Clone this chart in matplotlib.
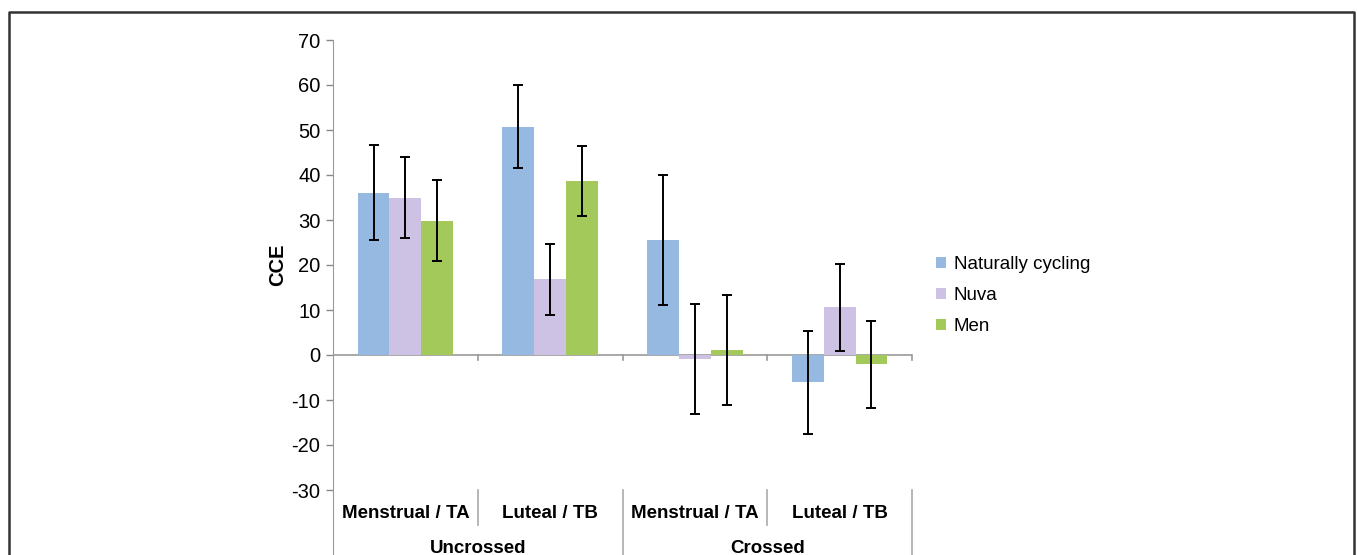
import matplotlib
matplotlib.use("Agg")
import matplotlib.pyplot as plt
from matplotlib.lines import Line2D
import numpy as np

plt.rcParams['font.family'] = ['Liberation Sans', 'DejaVu Sans']
plt.rcParams['axes.unicode_minus'] = False

categories = ["Menstrual / TA", "Luteal / TB", "Menstrual / TA", "Luteal / TB"]
groups = ["Uncrossed", "Crossed"]
series = ["Naturally cycling", "Nuva", "Men"]
natural = [36.1, 50.7, 25.5, -6.1]
natural_err = [10.6, 9.2, 14.4, 11.4]
nuva = [35.0, 16.8, -0.8, 10.6]
nuva_err = [9.1, 7.8, 12.2, 9.7]
men = [29.8, 38.7, 1.1, -2.1]
men_err = [9.0, 7.8, 12.2, 9.7]
colors = ["#95b9e1", "#cdc2e4", "#a3c95a"]

W, H = 1357, 555
fig = plt.figure(figsize=(W / 100, H / 100), dpi=100)
ax = fig.add_axes([333 / W, (H - 490) / H, 579 / W, 450 / H])

x = np.arange(len(categories))
width = 0.22
handles = []
for i, (vals, errs) in enumerate([(natural, natural_err), (nuva, nuva_err), (men, men_err)]):
    b = ax.bar(x + (i - 1) * width, vals, width, color=colors[i], label=series[i], zorder=2)
    ax.errorbar(x + (i - 1) * width, vals, yerr=errs, fmt='none', ecolor='black',
                elinewidth=1.4, capsize=3.8, capthick=1.4, zorder=3)
    handles.append(b)

ax.set_xlim(-0.5, 3.5)
ax.set_ylim(-30, 70)
ax.set_yticks(range(-30, 71, 10))
ax.tick_params(axis='y', labelsize=14.5, colors='#888888', labelcolor='black',
               length=5, width=1, pad=4)
ax.set_xticks([])
for s in ['top', 'right', 'bottom']:
    ax.spines[s].set_visible(False)
ax.spines['left'].set_color('#999999')
ax.spines['left'].set_bounds(-44.5, 70)
ax.spines['left'].set_clip_on(False)
ax.set_ylabel("CCE", fontsize=14.5, fontweight='bold', labelpad=3)

# zero line with category ticks
ax.axhline(0, color='#999999', lw=1.2, zorder=1)
for b in np.arange(0.5, 4.0, 1.0):
    ax.plot([b, b], [0, -1.2], color='#999999', lw=1.2, clip_on=False)

# category and group labels
for xi, lab in zip(x, categories):
    ax.text(xi, -35.2, lab, ha='center', va='center', fontsize=13.5, fontweight='bold')
for gi, g in enumerate(groups):
    ax.text(0.5 + 2 * gi, -42.9, g, ha='center', va='center', fontsize=13.5, fontweight='bold')
for b in [0.5, 2.5]:
    ax.plot([b, b], [-30, -37.8], color='#aaaaaa', lw=1.2, clip_on=False)
for b in [1.5, 3.5]:
    ax.plot([b, b], [-30, -44.5], color='#aaaaaa', lw=1.2, clip_on=False)

leg = fig.legend(handles=handles, loc='upper left', bbox_to_anchor=(919 / W, 1 - 239 / H),
                 frameon=False, fontsize=13.5, handlelength=0.55, handleheight=0.55,
                 handletextpad=0.4, labelspacing=0.75)

# outer frame
fx0, fx1, fy = 9 / W, 1354 / W, 1 - 12 / H
fig.add_artist(Line2D([fx0, fx0, fx1, fx1], [0, fy, fy, 0], color='#333333', lw=1.8,
                      transform=fig.transFigure))

fig.savefig("out.png", dpi=100)
